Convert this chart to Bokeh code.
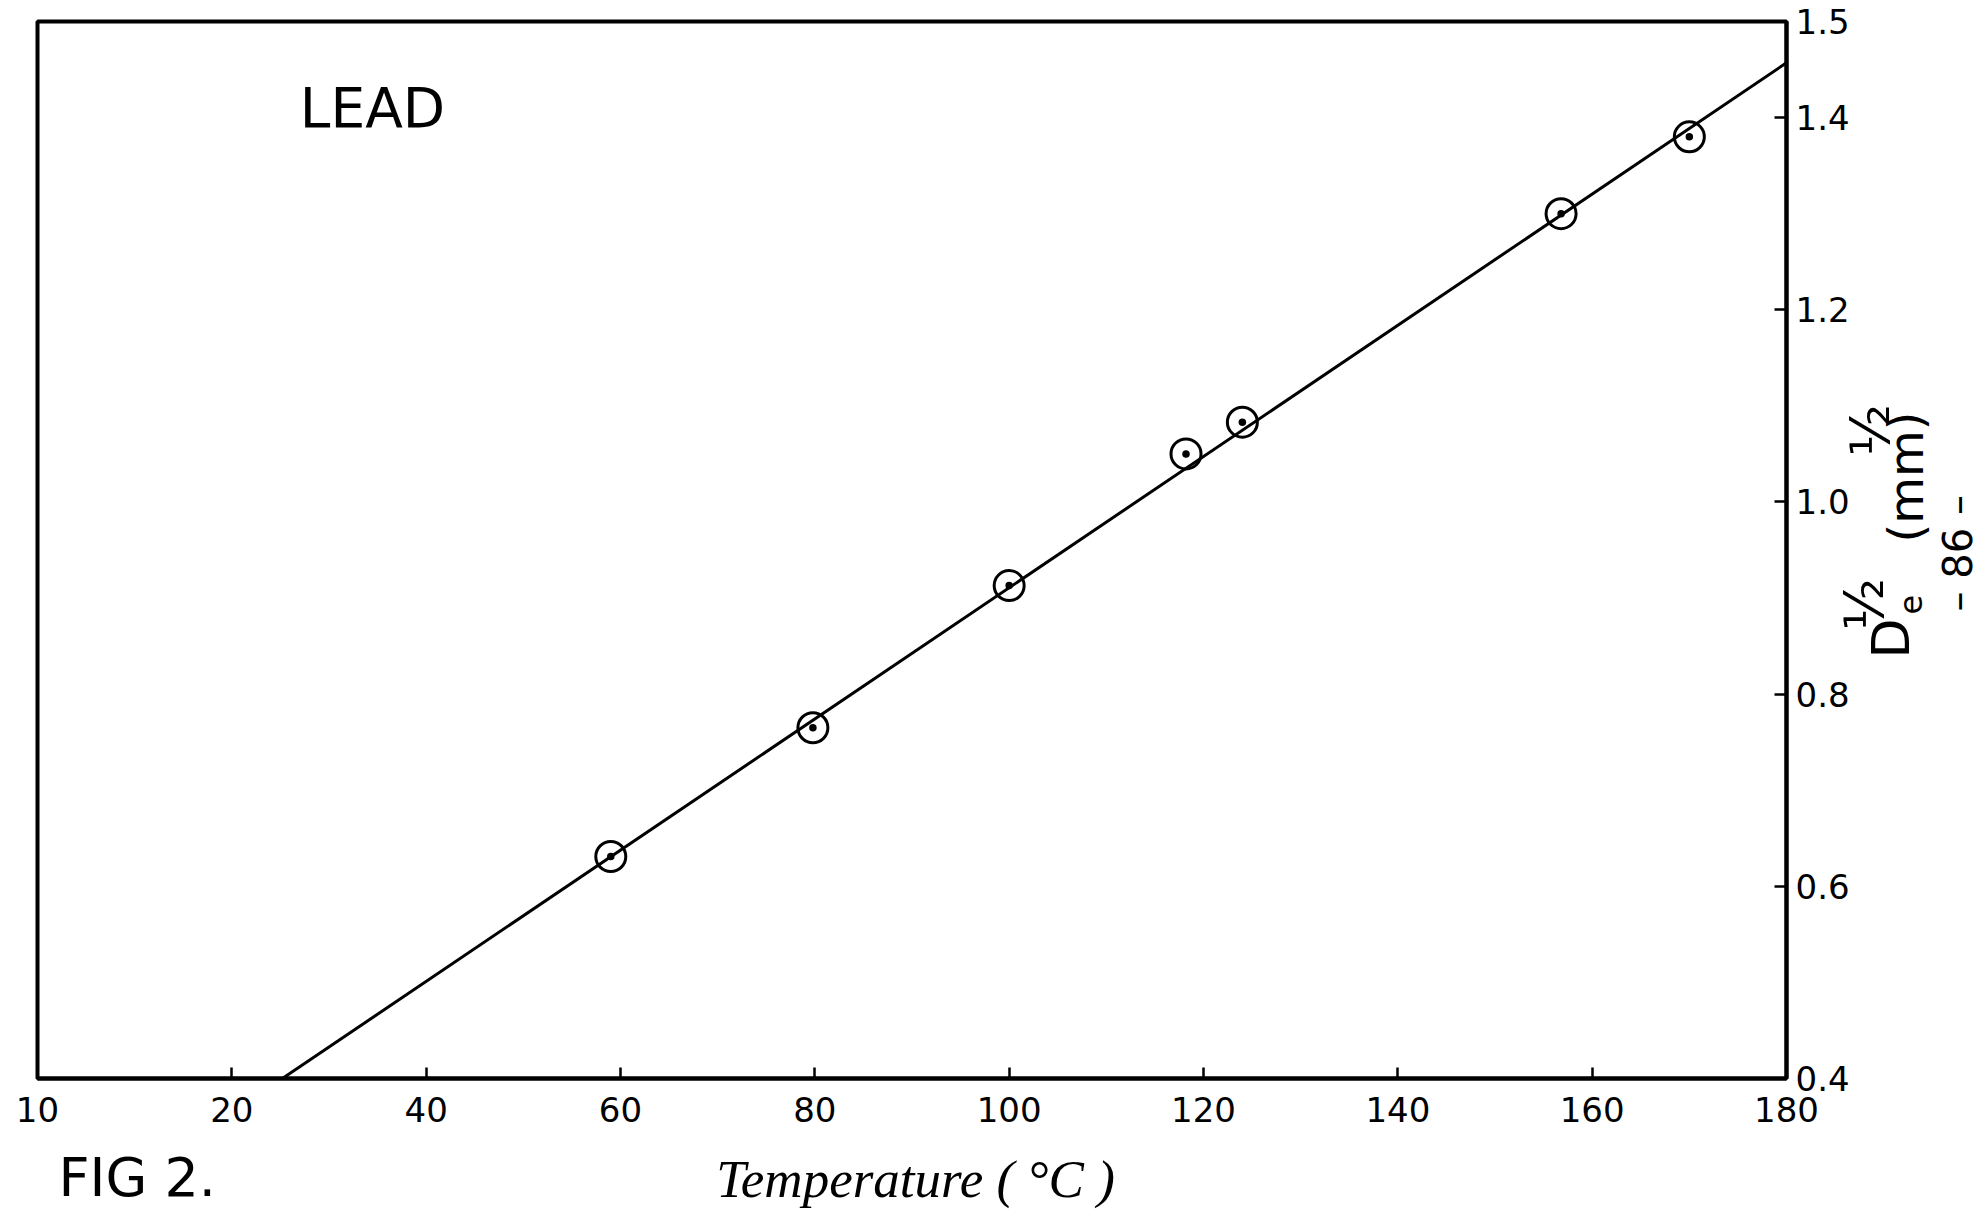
import math
from bokeh.plotting import figure
from bokeh.models import FixedTicker, Label
from bokeh.embed import file_html
from bokeh.resources import INLINE

# ---- data ----
temperature_c = [59.0, 79.8, 100.0, 118.2, 124.0, 156.8, 170.0]
sqrt_de = [0.631, 0.765, 0.913, 1.050, 1.083, 1.300, 1.380]

fit_t = [25.2, 180.0]
fit_v = [0.400, 1.457]

x_ticks = [0, 20, 40, 60, 80, 100, 120, 140, 160, 180]
x_tick_labels = ["10", "20", "40", "60", "80", "100", "120", "140", "160", "180"]
y_ticks = [0.4, 0.6, 0.8, 1.0, 1.2, 1.4, 1.5]
y_tick_labels = ["0.4", "0.6", "0.8", "1.0", "1.2", "1.4", "1.5"]

FONT = "DejaVu Sans"

p = figure(frame_width=1749, frame_height=1057,
           x_range=(0, 180), y_range=(0.4, 1.5),
           y_axis_location="right",
           output_backend="svg", toolbar_location=None,
           min_border_left=37, min_border_top=21,
           min_border_right=192, min_border_bottom=139)

p.background_fill_color = "white"
p.border_fill_color = "white"
p.grid.visible = False
p.outline_line_color = "black"
p.outline_line_width = 4

# x axis
xa = p.xaxis[0]
xa.ticker = FixedTicker(ticks=x_ticks)
xa.major_label_overrides = dict(zip(x_ticks, x_tick_labels))
xa.minor_tick_line_color = None
xa.major_tick_in = 11
xa.major_tick_out = 0
xa.major_tick_line_width = 2.5
xa.axis_line_width = 4
xa.major_label_text_font = FONT
xa.major_label_text_font_size = "34px"
xa.major_label_text_color = "black"
xa.major_label_standoff = 18

# y axis (right)
ya = p.yaxis[0]
ya.ticker = FixedTicker(ticks=y_ticks)
ya.major_label_overrides = dict(zip(y_ticks, y_tick_labels))
ya.minor_tick_line_color = None
ya.major_tick_in = 12
ya.major_tick_out = 0
ya.major_tick_line_width = 2.5
ya.axis_line_width = 4
ya.major_label_text_font = FONT
ya.major_label_text_font_size = "34px"
ya.major_label_text_color = "black"
ya.major_label_standoff = 9

# fitted line and data points
p.line(fit_t, fit_v, line_color="black", line_width=3)
p.scatter(temperature_c, sqrt_de, marker="circle_dot", size=30,
          fill_color=None, line_color="black", line_width=3)

# ---- text annotations (positions in page pixels -> data) ----
L, R, T, B = 37.0, 1786.0, 21.0, 1078.0


def dx(px):
    return (px - L) / (R - L) * 180.0


def dy(py):
    return 0.4 + (B - py) / (B - T) * 1.1


def add_label(text, px, py, size, align="left", baseline="middle",
              angle=0.0, font=FONT, style="normal", place="center"):
    lab = Label(x=dx(px), y=dy(py), text=text,
                text_font=font, text_font_size=f"{size}px",
                text_font_style=style, text_color="black",
                text_align=align, text_baseline=baseline,
                angle=angle, level="overlay")
    p.add_layout(lab, place)


add_label("LEAD", 372, 107, 55, align="center")
add_label("FIG 2.", 58, 1177, 54, align="left", place="below")
add_label("Temperature ( °C )", 915, 1178, 53, align="center",
          font="Liberation Serif", style="italic", place="below")

up = math.pi / 2
# y-axis label: D_e^(1/2) (mm)^(1/2), rotated to read upwards
add_label("D", 1890, 658, 52, angle=up, place="right")
add_label("e", 1910, 614, 32, angle=up, place="right")
add_label("½", 1864, 630, 54, angle=up, place="right")
add_label("(mm)", 1905, 542, 48, angle=up, place="right")
add_label("½", 1870, 456, 54, angle=up, place="right")
# page number
add_label("–  86  –", 1957, 540, 40, align="center", angle=up, place="right")

open("out.html", "w").write(file_html(p, INLINE))
